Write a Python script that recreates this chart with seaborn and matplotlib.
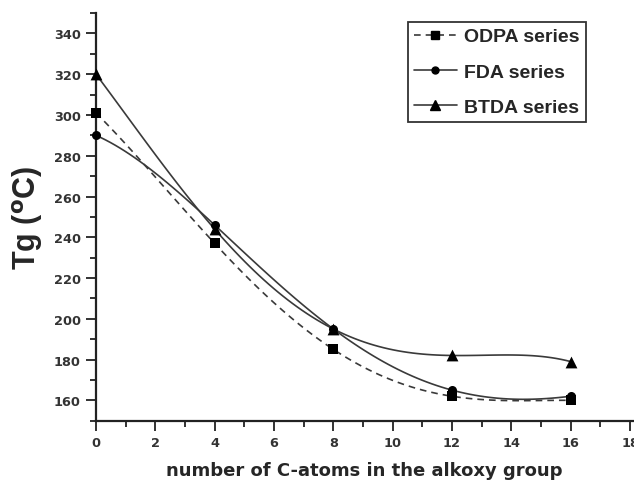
import matplotlib
matplotlib.use("Agg")
import matplotlib.pyplot as plt
import seaborn as sns
import pandas as pd
import warnings
from matplotlib.lines import Line2D
from matplotlib.ticker import MultipleLocator

warnings.filterwarnings("ignore")

carbon_atoms = [0, 4, 8, 12, 16]
odpa_tg = [301, 237, 185, 162, 160]
fda_tg = [290, 246, 195, 165, 162]
btda_tg = [320, 244, 195, 182, 179]
series_names = ["ODPA series", "FDA series", "BTDA series"]

sns.set_style("ticks")
plt.rcParams['font.family'] = ['DejaVu Sans']

fig = plt.figure(figsize=(6.34, 4.85), dpi=100)
ax = fig.add_axes([0.1514, 0.1305, 0.847, 0.8405])

df = pd.DataFrame({
    "x": carbon_atoms * 3,
    "Tg": odpa_tg + fda_tg + btda_tg,
    "series": sum([[n] * len(carbon_atoms) for n in series_names], []),
})

styles = {
    "ODPA series": dict(marker="s", ls=(0, (4, 3)), ms=7),
    "FDA series": dict(marker="o", ls="-", ms=6.5),
    "BTDA series": dict(marker="^", ls="-", ms=8.5),
}
line_color = "#3a3a3a"

for name in series_names:
    sub = df[df.series == name]
    st = styles[name]
    sns.regplot(data=sub, x="x", y="Tg", order=4, ci=None, scatter=False, ax=ax,
                truncate=True,
                line_kws=dict(color=line_color, lw=1.2, ls=st["ls"]))
    sns.scatterplot(data=sub, x="x", y="Tg", marker=st["marker"], s=st["ms"] ** 2,
                    color="black", edgecolor="black", linewidth=0, ax=ax, zorder=5,
                    clip_on=False)

ax.set_xlim(0, 18.1)
ax.set_ylim(150, 350)
ax.xaxis.set_major_locator(MultipleLocator(2))
ax.xaxis.set_minor_locator(MultipleLocator(1))
ax.yaxis.set_major_locator(MultipleLocator(20))
ax.yaxis.set_minor_locator(MultipleLocator(10))
ax.set_yticks(range(160, 341, 20))
ax.tick_params(axis="both", which="major", direction="out", length=7.5, width=1.3,
               color="#222222", labelsize=9.3, labelcolor="#333333")
ax.tick_params(axis="both", which="minor", direction="out", length=4.5, width=1.3,
               color="#222222")
for lab in ax.get_xticklabels() + ax.get_yticklabels():
    lab.set_fontweight("bold")

sns.despine(ax=ax)
for sp in ["left", "bottom"]:
    ax.spines[sp].set_linewidth(1.6)
    ax.spines[sp].set_color("#222222")

ax.set_xlabel("number of C-atoms in the alkoxy group", fontsize=13,
              fontweight="bold", labelpad=9)
ax.set_ylabel("Tg ($\\mathbf{^{o}}$C)", fontsize=22, fontweight="bold", labelpad=6,
              family=["Liberation Sans", "DejaVu Sans"])

handles = [Line2D([], [], color=line_color, lw=1.2, ls=styles[n]["ls"],
                  marker=styles[n]["marker"], markersize=styles[n]["ms"] - 1.5,
                  markerfacecolor="black", markeredgecolor="black")
           for n in series_names]
leg = ax.legend(handles, series_names, loc="upper right", bbox_to_anchor=(0.912, 0.978),
                borderaxespad=0, frameon=True, fancybox=False, edgecolor="#333333",
                framealpha=1, handlelength=2.2, handletextpad=0.4, borderpad=0.3,
                labelspacing=0.9,
                prop={"family": ["Liberation Sans"], "weight": "bold", "size": 14})
leg.get_frame().set_linewidth(1.3)

fig.savefig("out.png", dpi=100)
